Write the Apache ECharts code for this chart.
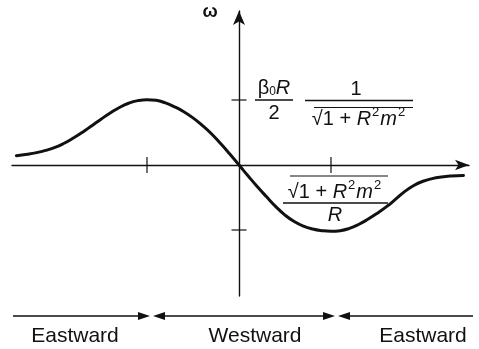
<!DOCTYPE html>
<html><head><meta charset="utf-8">
<script src="https://cdn.jsdelivr.net/npm/echarts@6/dist/echarts.min.js"></script>
<style>html,body{margin:0;padding:0;background:#fff}#c{width:479px;height:349px}</style>
</head><body><div id="c"></div>
<script>
// Rossby-wave dispersion curve: scaled wavenumber k against scaled frequency ω
const kValues = [-2.42, -2.3, -2.2, -2.1, -2.0, -1.9, -1.8, -1.7, -1.6, -1.5, -1.4, -1.3, -1.2, -1.1, -1.0,
                 -0.9, -0.8, -0.7, -0.6, -0.5, -0.4, -0.3, -0.2, -0.1, 0,
                 0.1, 0.2, 0.3, 0.4, 0.5, 0.6, 0.7, 0.8, 0.9, 1.0, 1.1, 1.2, 1.3, 1.4, 1.5,
                 1.6, 1.7, 1.8, 1.9, 2.0, 2.1, 2.2, 2.3, 2.44];
const omegaValues = [0.143, 0.165, 0.19, 0.225, 0.27, 0.335, 0.415, 0.505, 0.605, 0.705, 0.80, 0.885, 0.95, 0.99, 1.005,
                     0.995, 0.955, 0.895, 0.82, 0.725, 0.61, 0.48, 0.33, 0.168, 0,
                     -0.17, -0.335, -0.49, -0.64, -0.77, -0.87, -0.94, -0.985, -1.01, -1.02, -1.01, -0.975, -0.915, -0.835, -0.745,
                     -0.645, -0.53, -0.41, -0.315, -0.25, -0.21, -0.185, -0.17, -0.16];
// marked wavenumbers on the k axis and marked frequencies on the ω axis
const tickK = [-1, 1];
const tickOmega = [1, -1];
const regionLabels = ['Eastward', 'Westward', 'Eastward'];
const axisName = 'ω';

const INK = '#111';
const FF = '"Liberation Sans", Arial, Helvetica, sans-serif';
const FS = 20;

const chart = echarts.init(document.getElementById('c'), null, { renderer: 'canvas' });

const curve = kValues.map((k, i) => [k, omegaValues[i]]);

function txt(x, y, text, font) {
  return {
    type: 'text', x: x, y: y, z: 10,
    style: { text: text, fill: INK, font: font, align: 'center', verticalAlign: 'middle' }
  };
}
function seg(x1, y1, x2, y2, w) {
  return { type: 'line', z: 10, shape: { x1, y1, x2, y2 }, style: { stroke: INK, lineWidth: w || 1.3 } };
}
function head(tipX, y, dir) {
  const b = tipX - dir * 12;
  return { type: 'polygon', z: 10, shape: { points: [[tipX, y], [b, y - 4], [b, y + 4]] }, style: { fill: INK } };
}
// √(1 + R²m²) with raised exponents
function rootText(x, y) {
  return {
    type: 'text', x: x, y: y, z: 10,
    style: {
      text: '{n|√1 + }{i|R}{p|2}{i|m}{p|2}',
      fill: INK, align: 'center', verticalAlign: 'middle',
      rich: {
        n: { fontSize: FS, fontFamily: FF, fill: INK },
        i: { fontSize: FS, fontFamily: FF, fontStyle: 'italic', fill: INK },
        p: { fontSize: 13, fontFamily: FF, fill: INK, padding: [0, 1, 13, 1] }
      }
    }
  };
}

const option = {
  animation: false,
  backgroundColor: '#fff',
  grid: { left: 12, right: 10, top: 11, bottom: 53 },
  xAxis: {
    type: 'value', min: -2.4674, max: 2.5,
    axisLine: { onZero: true, symbol: ['none', 'arrow'], symbolSize: [8, 14], lineStyle: { color: INK, width: 1.4 } },
    axisTick: { show: false }, axisLabel: { show: false }, splitLine: { show: false }
  },
  yAxis: {
    type: 'value', min: -2.0154, max: 2.3692,
    axisLine: { onZero: true, symbol: ['none', 'arrow'], symbolSize: [9, 14], lineStyle: { color: INK, width: 1.4 } },
    axisTick: { show: false }, axisLabel: { show: false }, splitLine: { show: false }
  },
  series: [
    {
      type: 'line', data: curve, smooth: 0.5, symbol: 'none',
      lineStyle: { color: INK, width: 3, cap: 'round', join: 'round' }
    },
    {
      type: 'scatter', data: tickK.map(k => [k, 0]), symbol: 'rect', symbolSize: [1.5, 16],
      itemStyle: { color: INK }, silent: true
    },
    {
      type: 'scatter', data: tickOmega.map(w => [0, w]), symbol: 'rect', symbolSize: [15, 1.5],
      itemStyle: { color: INK }, silent: true
    }
  ],
  graphic: [
    txt(210, 12, axisName, 'bold 18px ' + FF),
    // β0 R / 2
    {
      type: 'text', x: 274, y: 88, z: 10,
      style: {
        text: '{g|β}{s|0}{i|R}', fill: INK, align: 'center', verticalAlign: 'middle',
        rich: {
          g: { fontSize: FS, fontFamily: FF, fill: INK },
          s: { fontSize: 12, fontFamily: FF, fill: INK, padding: [8, 0, 0, 0] },
          i: { fontSize: FS, fontFamily: FF, fontStyle: 'italic', fill: INK }
        }
      }
    },
    seg(255, 100, 293, 100),
    txt(274, 113, '2', FS + 'px ' + FF),
    // 1 / √(1 + R²m²)
    txt(356, 89.5, '1', FS + 'px ' + FF),
    seg(305, 100.5, 413, 100.5),
    rootText(359, 119),
    seg(314, 107.5, 413, 107.5, 1.2),
    // √(1 + R²m²) / R
    rootText(335, 192),
    seg(290, 176, 388, 176, 1.2),
    seg(283, 203, 388, 203),
    txt(335, 215.5, 'R', 'italic ' + FS + 'px ' + FF),
    // propagation direction bands
    seg(13, 316, 140, 316, 1.5), head(150, 316, 1),
    head(153, 316, -1), seg(163, 316, 325, 316, 1.5), head(335, 316, 1),
    head(338, 316, -1), seg(348, 316, 473, 316, 1.5),
    txt(75, 336, regionLabels[0], '21px ' + FF),
    txt(255, 336, regionLabels[1], '21px ' + FF),
    txt(423, 336, regionLabels[2], '21px ' + FF)
  ]
};
chart.setOption(option);
</script>
</body></html>
